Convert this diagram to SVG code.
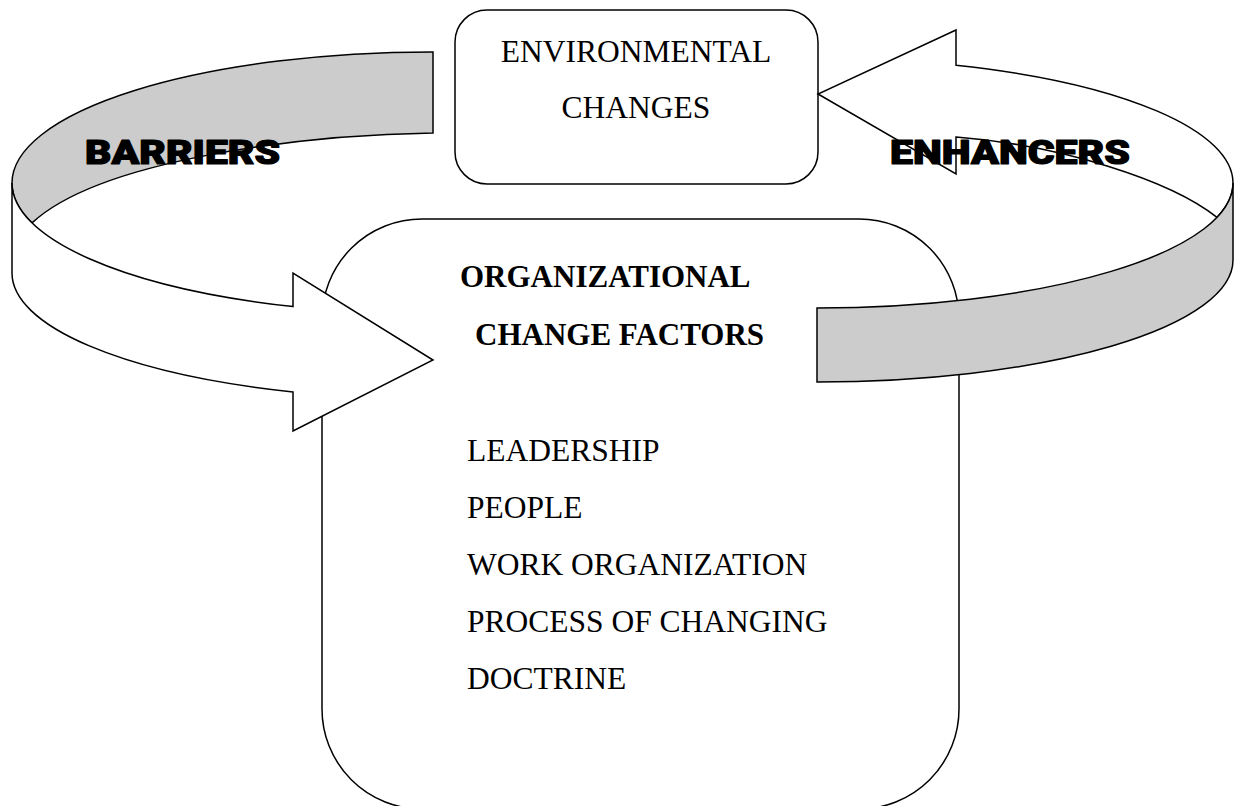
<svg xmlns="http://www.w3.org/2000/svg" width="1239" height="806" viewBox="0 0 1239 806">
  <style>
    .box { fill: #ffffff; stroke: #000000; stroke-width: 1.5; }
    .band { stroke: #000000; stroke-width: 1.5; stroke-linejoin: miter; }
    .white { fill: #ffffff; }
    .shade { fill: #cccccc; }
    .serif { font-family: "Liberation Serif", "Times New Roman", serif; fill: #000000; font-size: 31.5px; }
    .bold { font-weight: bold; font-size: 31px; }
    .banner { font-family: "Arial Black", "Roboto", "Inter", "Liberation Sans", sans-serif; font-weight: 900; font-size: 34px; fill: #000000; stroke: #000000; stroke-width: 1.2; stroke-linejoin: round; }
  </style>

  <!-- central block listing the organisational factors -->
  <g id="org-factors">
    <rect class="box" x="322" y="219" width="637" height="590" rx="100" ry="100"/>
  </g>

  <!-- environment block at the top -->
  <g id="env-changes">
    <rect class="box" x="455" y="10" width="363" height="174" rx="32" ry="32"/>
    <text class="serif" x="636" y="62" text-anchor="middle">ENVIRONMENTAL</text>
    <text class="serif" x="636" y="118" text-anchor="middle">CHANGES</text>
  </g>

  <g id="connectors">
    <!-- left loop: barriers, pointing into the central block -->
    <g id="barriers-arrow">
      <path class="band shade" d="M433,52 A420,131 0 0 0 12,183 A420,131 0 0 0 32,222.9 C100,160 300,135 433,133 Z"/>
      <path class="band white" d="M12,183 A420,131 0 0 0 293,306.6 L293,273 L433,360 L293,431 L293,391.9 A420,126 0 0 1 12,273 Z"/>
    </g>
    <!-- right loop: enhancers, pointing at the environment block -->
    <g id="enhancers-arrow">
      <path class="band white" d="M956,30 L956,65.2 A416,125 0 0 1 1233,183 A416,125 0 0 1 1217,217.3 C1170,180 1060,145 956,137 L956,174 L818,94 Z"/>
      <path class="band shade" d="M1233,183 A416,125 0 0 1 817,308 L817,382 A416,122 0 0 0 1233,260 Z"/>
    </g>
  </g>

  <g id="labels">
    <text class="banner" x="85" y="164" textLength="195" lengthAdjust="spacingAndGlyphs">BARRIERS</text>
    <text class="banner" x="890" y="164" textLength="240" lengthAdjust="spacingAndGlyphs">ENHANCERS</text>
  </g>

  <g id="org-factors-text">
    <text class="serif bold" x="460" y="287">ORGANIZATIONAL</text>
    <text class="serif bold" x="475" y="345">CHANGE FACTORS</text>
    <text class="serif" x="467" y="461">LEADERSHIP</text>
    <text class="serif" x="467" y="518">PEOPLE</text>
    <text class="serif" x="467" y="575">WORK ORGANIZATION</text>
    <text class="serif" x="467" y="632">PROCESS OF CHANGING</text>
    <text class="serif" x="467" y="689">DOCTRINE</text>
  </g>
</svg>
